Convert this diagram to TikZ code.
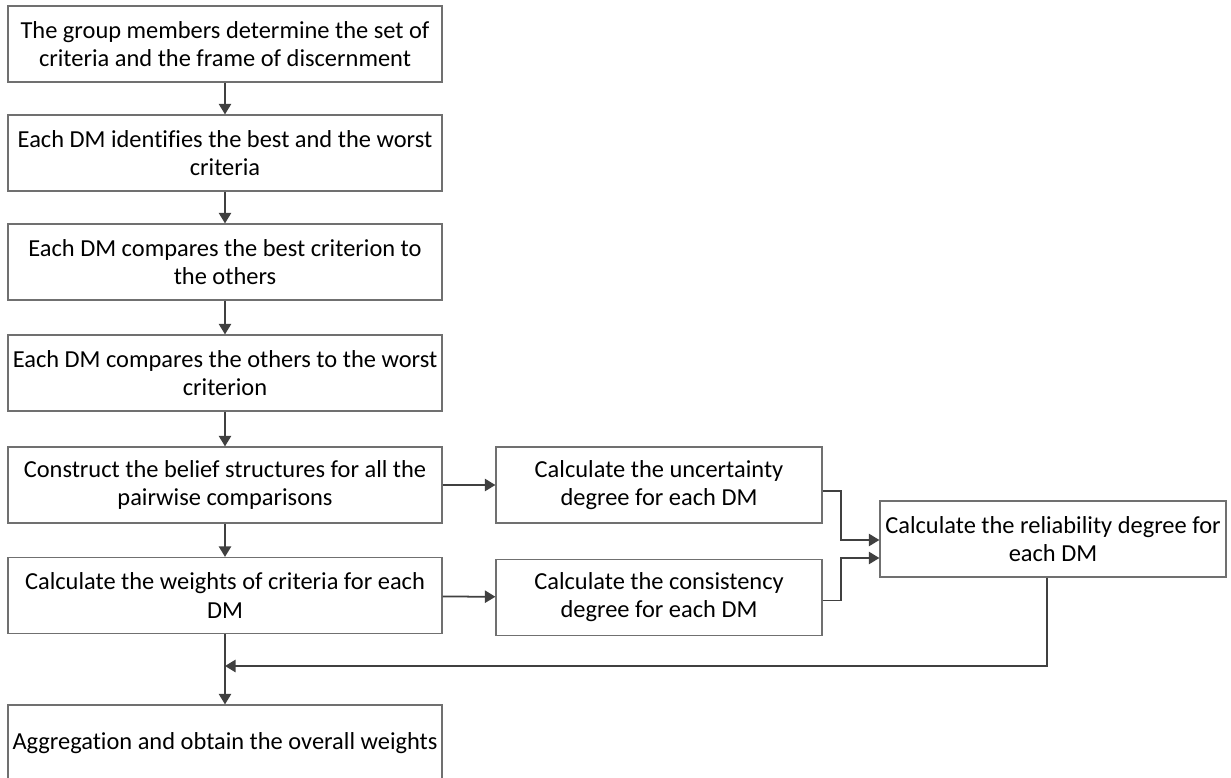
\documentclass[tikz,border=0pt]{standalone}
\usepackage{fontspec}
\setmainfont[Ligatures=NoCommon]{Carlito}
\usepackage{tikz}
\usetikzlibrary{arrows.meta}
\definecolor{boxgray}{HTML}{707070}
\definecolor{arrowgray}{HTML}{404040}
\tikzstyle{process} = [rectangle, draw=boxgray, line width=0.7pt, minimum height=1.52cm, align=center, inner sep=0pt, font=\fontsize{13.9}{16}\selectfont]
\tikzstyle{flow} = [draw=arrowgray, line width=1pt, -{Triangle[width=7pt,length=6pt]}]

\begin{document}
\begin{tikzpicture}
\useasboundingbox (0,0) rectangle (24.62,-15.56);
\node[process, minimum width=8.68cm] (members) at (4.5,-0.88) {The group members determine the set of\\criteria and the frame of discernment};
\node[process, minimum width=8.68cm] (identify) at (4.5,-3.06) {Each DM identifies the best and the worst\\criteria};
\node[process, minimum width=8.68cm] (bestto) at (4.5,-5.24) {Each DM compares the best criterion to\\the others};
\node[process, minimum width=8.68cm] (toworst) at (4.5,-7.46) {Each DM compares the others to the worst\\criterion};
\node[process, minimum width=8.68cm] (belief) at (4.5,-9.70) {Construct the belief structures for all the\\pairwise comparisons};
\node[process, minimum width=8.68cm] (weights) at (4.5,-11.91) {Calculate the weights of criteria for each\\DM};
\node[process, minimum width=8.68cm] (aggr) at (4.5,-14.86) {Aggregation and obtain the overall weights};
\node[process, minimum width=6.52cm] (uncert) at (13.18,-9.70) {Calculate the uncertainty\\degree for each DM};
\node[process, minimum width=6.52cm] (consist) at (13.18,-11.95) {Calculate the consistency\\degree for each DM};
\node[process, minimum width=6.92cm] (reliab) at (21.06,-10.78) {Calculate the reliability degree for\\each DM};
\coordinate (join) at (4.5,-13.32);

\draw[flow] (members) -- (identify);
\draw[flow] (identify) -- (bestto);
\draw[flow] (bestto) -- (toworst);
\draw[flow] (toworst) -- (belief);
\draw[flow] (belief) -- (weights);
\draw[flow] (weights) -- (aggr);
\draw[flow] (belief) -- (uncert);
\draw[flow] (weights) -- (consist);
\draw[flow] ([yshift=-0.12cm]uncert.east) -- ++(0.36,0) |- ([yshift=-0.02cm]reliab.west);
\draw[flow] ([yshift=-0.06cm]consist.east) -- ++(0.36,0) |- ([yshift=-0.38cm]reliab.west);
\draw[flow] ([xshift=-0.12cm]reliab.south) |- (join);
\end{tikzpicture}
\end{document}
